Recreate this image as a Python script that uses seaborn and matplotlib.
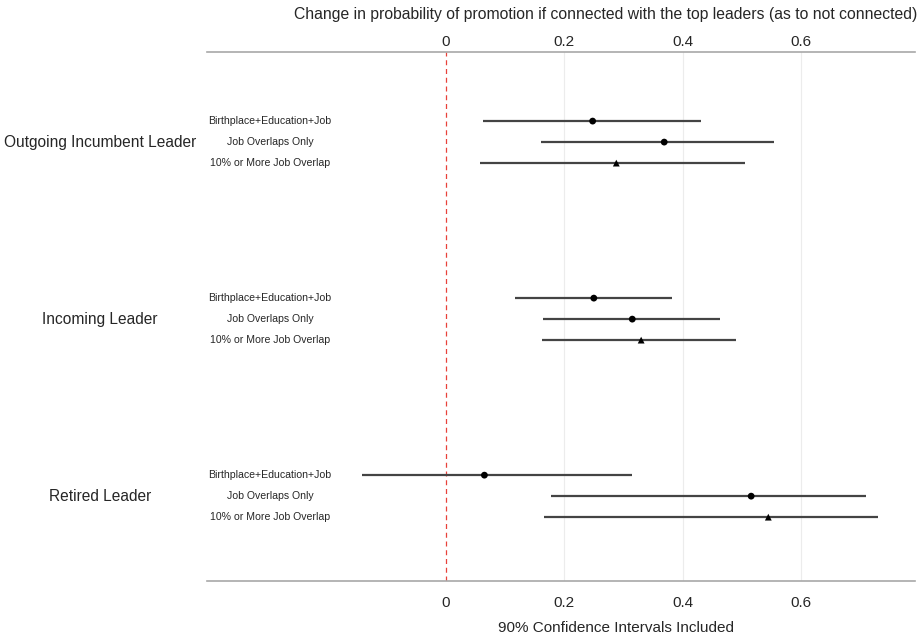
import seaborn as sns
import pandas as pd
import matplotlib.pyplot as plt

# leader groups and connection measures
groups = ["Outgoing Incumbent Leader", "Incoming Leader", "Retired Leader"]
measures = ["Birthplace+Education+Job", "Job Overlaps Only", "10% or More Job Overlap"]

# point estimates and 90% CI bounds, one list per group (same order as measures)
est_outgoing = [0.248, 0.369, 0.288]
lo_outgoing = [0.063, 0.160, 0.057]
hi_outgoing = [0.432, 0.555, 0.505]

est_incoming = [0.250, 0.315, 0.330]
lo_incoming = [0.116, 0.164, 0.163]
hi_incoming = [0.383, 0.463, 0.490]

est_retired = [0.065, 0.516, 0.545]
lo_retired = [-0.142, 0.178, 0.166]
hi_retired = [0.315, 0.711, 0.730]

tick_vals = [0, 0.2, 0.4, 0.6]
tick_labels = ["0", "0.2", "0.4", "0.6"]

rows = []
for g, (est, lo, hi) in enumerate([(est_outgoing, lo_outgoing, hi_outgoing),
                                   (est_incoming, lo_incoming, hi_incoming),
                                   (est_retired, lo_retired, hi_retired)]):
    for s in range(3):
        rows.append({"group": groups[g], "measure": measures[s],
                     "est": est[s], "lo": lo[s], "hi": hi[s],
                     "ypos": g * 8.43 + s})
df = pd.DataFrame(rows)

sns.set_style("white")
plt.rcParams["font.family"] = ["Liberation Sans", "DejaVu Sans"]

fig = plt.figure(figsize=(9.21, 6.38), dpi=100)
ax = fig.add_axes([207 / 921, 57 / 638, 708 / 921, 529 / 638])

# grid + zero line
for t in tick_vals[1:]:
    ax.axvline(t, color="#ececec", lw=0.8, zorder=0)
ax.axvline(0, color="#e8413a", lw=0.9, ls=(0, (4, 3)), zorder=1)

# confidence intervals
ax.hlines(df["ypos"], df["lo"], df["hi"], color="#444444", lw=1.6, zorder=2)

# point estimates
sns.scatterplot(data=df, x="est", y="ypos", style="measure",
                markers={measures[0]: "o", measures[1]: "o", measures[2]: "^"},
                color="black", s=24, edgecolor="black", linewidth=0,
                legend=False, ax=ax, zorder=3)

ax.set_xlim(-0.404, 0.793)
ax.set_ylim(21.9, -3.29)
ax.set_yticks([])
ax.set_ylabel("")

# measure labels inside plot, group labels to the left
ytr = ax.get_yaxis_transform()
for _, r in df.iterrows():
    ax.text(0.089, r["ypos"], r["measure"], transform=ytr, ha="center", va="center",
            fontsize=7.6)
for g, name in enumerate(groups):
    ax.text(-0.151, g * 8.43 + 1, name, transform=ytr, ha="center", va="center",
            fontsize=11.2, clip_on=False)

for side in ["left", "right"]:
    ax.spines[side].set_visible(False)
for side in ["top", "bottom"]:
    ax.spines[side].set_color("#a8a8a8")
    ax.spines[side].set_linewidth(1.2)

ax.set_xticks(tick_vals)
ax.set_xticklabels(tick_labels)
ax.tick_params(axis="x", length=0, pad=11, labelsize=11)
ax.set_xlabel("90% Confidence Intervals Included", fontsize=11, labelpad=8)
ax.xaxis.label.set_x(0.578)

top = ax.secondary_xaxis("top")
top.set_xticks(tick_vals)
top.set_xticklabels(tick_labels)
top.tick_params(axis="x", length=0, pad=2, labelsize=11)
top.spines["top"].set_visible(False)

fig.text(917 / 921, 1 - 14 / 638,
         "Change in probability of promotion if connected with the top leaders (as to not connected)",
         ha="right", va="center", fontsize=11.3)

fig.savefig("out.png", dpi=100)
